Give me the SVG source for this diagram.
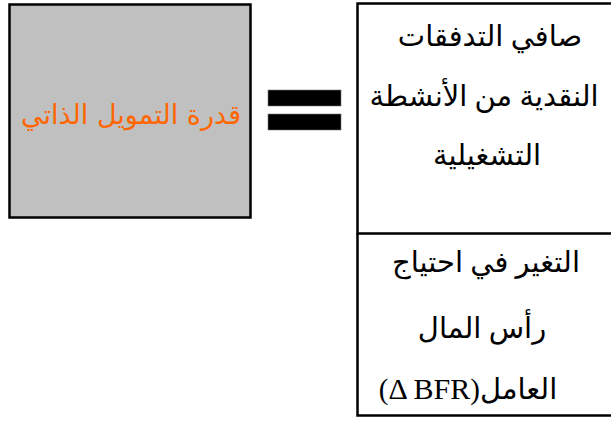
<svg xmlns="http://www.w3.org/2000/svg" width="611" height="421" viewBox="0 0 611 421">
  <style>
    .box { stroke: #000; stroke-width: 2.5; }
    .edge { stroke: #000; stroke-width: 2.5; fill: none; }
    .ar { font-family: "Liberation Serif", "DejaVu Sans", sans-serif; font-size: 29px; fill: #000; text-anchor: middle; direction: rtl; unicode-bidi: embed; }
    .title { font-family: "DejaVu Sans", sans-serif; font-size: 27px; fill: #ff6600; text-anchor: middle; direction: rtl; unicode-bidi: embed; }
  </style>
  <rect width="611" height="421" fill="#fff"/>

  <!-- self-financing capacity -->
  <g id="capacity">
    <rect class="box" x="9.5" y="4.5" width="241" height="213" fill="#c0c0c0"/>
    <text class="title" x="131" y="124">قدرة التمويل الذاتي</text>
  </g>

  <!-- equals sign -->
  <g id="equals" fill="#000" stroke="#777" stroke-width="0.6">
    <rect x="268" y="90" width="73" height="16"/>
    <rect x="268" y="114" width="73" height="16"/>
  </g>

  <!-- operating cash flow (table cell open on the right) -->
  <g id="operating-cash">
    <path class="edge" d="M611 3.5 H357.5 V233.5 H611"/>
    <text class="ar" x="490" y="46">صافي التدفقات</text>
    <text class="ar" x="484" y="106">النقدية من الأنشطة</text>
    <text class="ar" x="487" y="165">التشغيلية</text>
  </g>

  <!-- change in working capital requirement -->
  <g id="working-capital">
    <path class="edge" d="M357.5 233.5 V415.5 H611"/>
    <text class="ar" x="486" y="272">التغير في احتياج</text>
    <text class="ar" x="482" y="338">رأس المال</text>
    <text class="ar" x="468" y="399">العامل(<tspan font-size="30">Δ BFR</tspan>)</text>
  </g>
</svg>
